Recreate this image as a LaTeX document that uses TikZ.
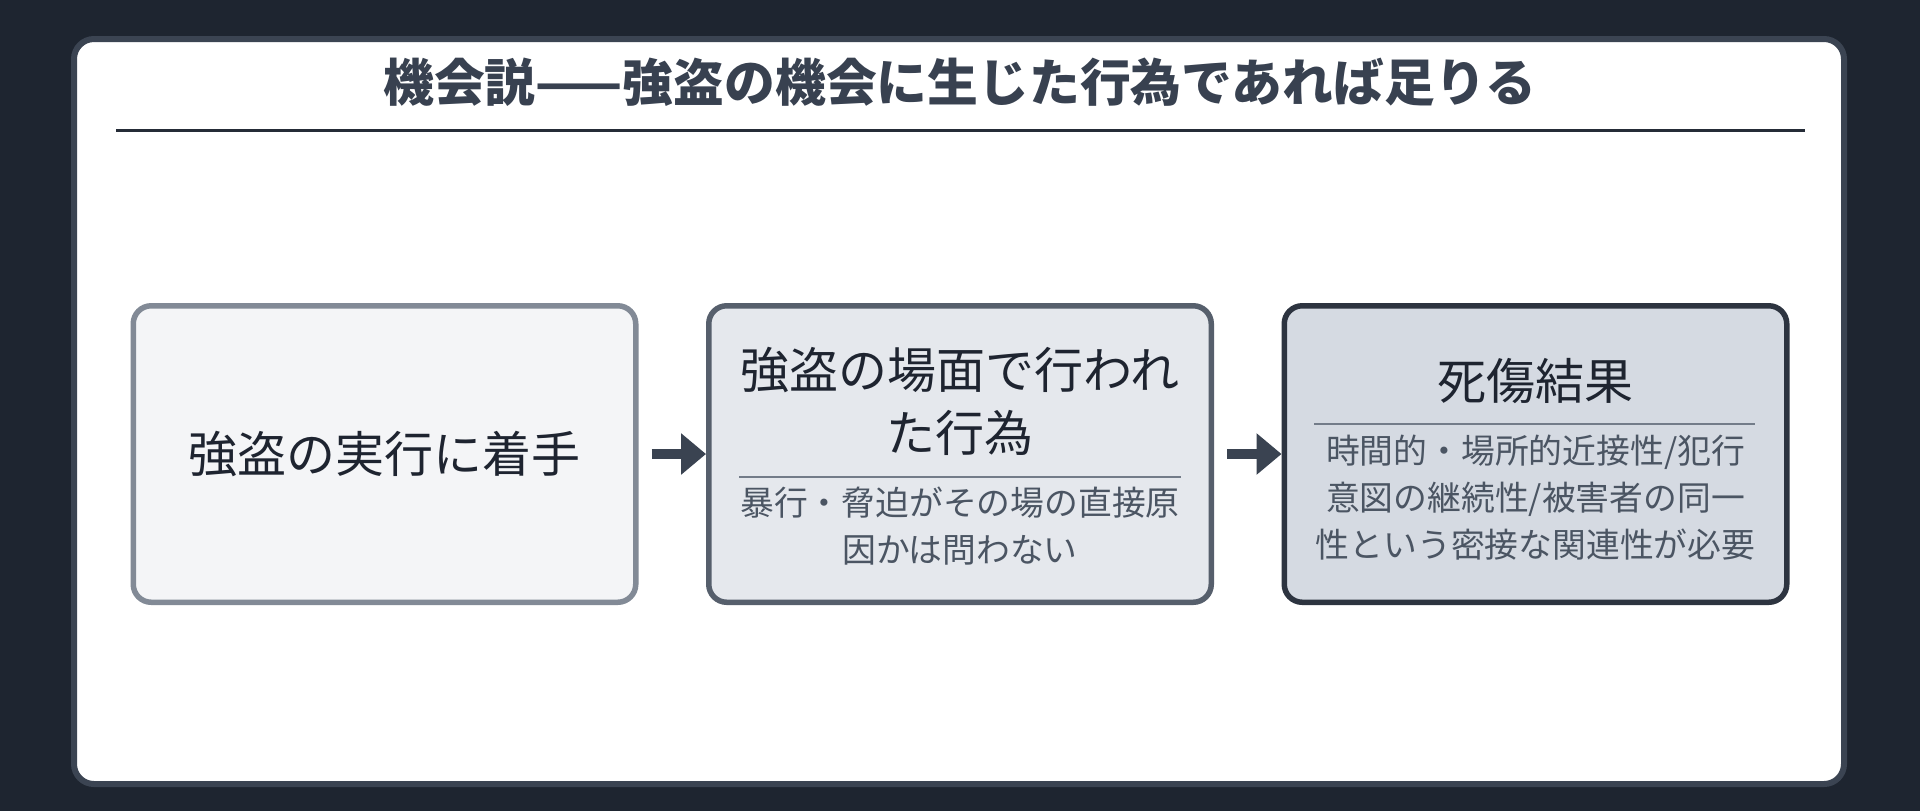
\documentclass[tikz,border=0pt]{standalone}
\usepackage{fontspec}
\setmainfont{Noto Sans CJK JP}
\usetikzlibrary{arrows.meta}

\definecolor{bgdark}{HTML}{1E2530}
\definecolor{cardline}{HTML}{3B4452}
\definecolor{titleink}{HTML}{384150}
\definecolor{ruleink}{HTML}{252C37}
\definecolor{mainink}{HTML}{1E2430}
\definecolor{noteink}{HTML}{4B5563}
\definecolor{sepink}{HTML}{737C89}
\definecolor{arrowink}{HTML}{3A4351}
\definecolor{fillA}{HTML}{F4F5F7}
\definecolor{lineA}{HTML}{828A96}
\definecolor{fillB}{HTML}{E5E8ED}
\definecolor{lineB}{HTML}{565F6C}
\definecolor{fillC}{HTML}{D5DAE2}
\definecolor{lineC}{HTML}{2D3440}

\begin{document}
\begin{tikzpicture}[x=0.5pt,y=-0.5pt]
\tikzstyle{stepbox}=[draw,rounded corners=9pt,line width=2.75pt,minimum width=251.25pt,minimum height=148.25pt,inner sep=0pt]
\tikzstyle{headtext}=[inner sep=0pt,text=mainink,align=center,font=\fontsize{24.5}{31.5}\selectfont]
\tikzstyle{notetext}=[inner sep=0pt,text=noteink,align=center,font=\fontsize{16.9}{23.5}\selectfont]
\tikzstyle{sepline}=[draw=sepink,line width=1.3pt]
\tikzstyle{flow}=[draw=arrowink,line width=5pt,-{Triangle[length=12.5pt,width=20pt]},shorten <=6.5pt]
% background and card
\fill[bgdark] (0,0) rectangle (1920,811);
\draw[draw=cardline,fill=white,line width=3pt,rounded corners=10pt] (74,39) rectangle (1844,784);
\node[inner sep=0pt,text=titleink,font=\fontsize{25.4}{30}\selectfont\bfseries] (title) at (960,82) {機会説——強盗の機会に生じた行為であれば足りる};
\draw[draw=ruleink,line width=1.5pt] (116,130) -- (1805,130);
% the three steps
\node[stepbox,fill=fillA,draw=lineA,text=mainink,font=\fontsize{24.5}{31.5}\selectfont] (chakushu) at (384.5,454) {強盗の実行に着手};
\node[stepbox,fill=fillB,draw=lineB] (koui) at (960,454) {};
\node[stepbox,fill=fillC,draw=lineC] (kekka) at (1535.5,454) {};
\node[headtext] (kouiHead) at (960,401.5) {強盗の場面で行われ\\た行為};
\draw[sepline] (739,477) -- (1181,477);
\node[notetext] (kouiNote) at (960,526.5) {暴行・脅迫がその場の直接原\\因かは問わない};
\node[headtext] (kekkaHead) at (1535.5,381) {死傷結果};
\draw[sepline] (1314,424) -- (1755,424);
\node[notetext] (kekkaNote) at (1535.5,498) {時間的・場所的近接性/犯行\\意図の継続性/被害者の同一\\性という密接な関連性が必要};
% arrows
\draw[flow] (chakushu) -- (koui);
\draw[flow] (koui) -- (kekka);
\end{tikzpicture}
\end{document}
